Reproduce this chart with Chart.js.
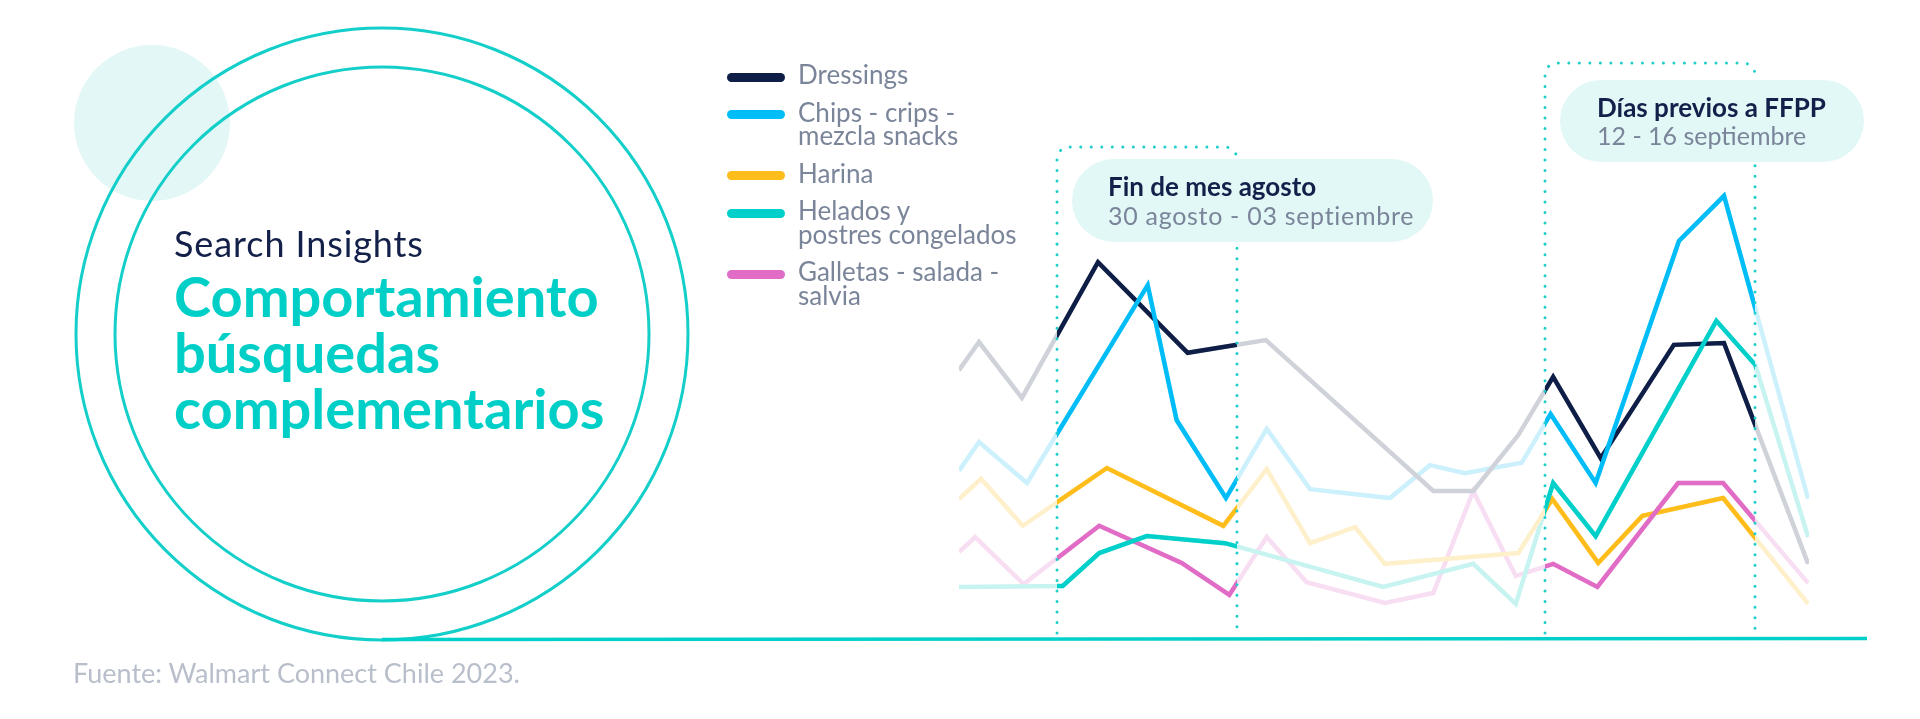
<!DOCTYPE html>
<html><head><meta charset="utf-8">
<script src="https://cdn.jsdelivr.net/npm/chart.js@4.4.0/dist/chart.umd.min.js"></script>
<style>
html,body{margin:0;padding:0;background:#fff;width:1920px;height:719px;overflow:hidden;font-family:Lato,'Noto Sans',sans-serif;}
#wrap{position:relative;width:1920px;height:719px;}
canvas{position:absolute;left:0;top:0;}
.abs{position:absolute;white-space:nowrap;}
#kicker{left:174px;top:225px;font-size:36px;line-height:36px;color:#13204a;font-weight:400;letter-spacing:0.9px;}
#title{left:174px;top:268px;font-size:56px;line-height:56px;color:#00cfc8;font-weight:700;}
#legend{position:absolute;left:727px;top:63px;display:flex;flex-direction:column;gap:14px;}
.li{display:flex;align-items:flex-start;}
.sw{width:58px;height:9px;border-radius:4.5px;margin-top:9.8px;margin-right:13px;flex:none;}
.lt{font-size:26px;line-height:23.5px;color:#7b859a;white-space:pre;}
.box{position:absolute;background:#e2f8f7;}
.bt{position:absolute;font-size:26px;line-height:26px;font-weight:700;color:#13204a;white-space:nowrap;}
.bs{position:absolute;font-size:25px;line-height:25px;font-weight:400;color:#7b859a;white-space:nowrap;}
#box1{left:1072px;top:159px;width:361px;height:83px;border-radius:42px;}
#box1 .bs{letter-spacing:0.7px;}
#box2{left:1560px;top:80px;width:304px;height:82px;border-radius:41px;}
#source{left:73px;top:659px;font-size:27px;line-height:27px;color:#b8bfcb;}
</style></head><body>
<div id="wrap">
<canvas id="c" width="1920" height="719"></canvas>
<div class="abs" id="kicker">Search Insights</div>
<div class="abs" id="title">Comportamiento<br>búsquedas<br>complementarios</div>
<div id="legend"></div>
<div class="box" id="box1"><div class="bt" style="left:36px;top:14px">Fin de mes agosto</div><div class="bs" style="left:36px;top:44px">30 agosto - 03 septiembre</div></div>
<div class="box" id="box2"><div class="bt" style="left:37px;top:14px">Días previos a FFPP</div><div class="bs" style="left:37px;top:43px">12 - 16 septiembre</div></div>
<div class="abs" id="source">Fuente: Walmart Connect Chile 2023.</div>
</div>
<script>
// ---- data (x = position along the period, 0-100; y = search index, 0-100) ----
const seriesNames = ["Dressings", "Chips - crips -\nmezcla snacks", "Harina", "Helados y\npostres congelados", "Galletas - salada -\nsalvia"];
const windowLabels = ["Fin de mes agosto: 30 agosto - 03 septiembre", "Días previos a FFPP: 12 - 16 septiembre"];
const windowRanges = [[11.53, 32.70], [68.94, 93.65]];

const dressingsX = [0, 2.35, 7.4, 16.35, 26.9, 36.1, 55.8, 60.5, 65.8, 69.9, 75.5, 84.1, 90.0, 99.9];
const dressingsY = [57.4, 63.4, 51.5, 80.4, 61.1, 63.8, 31.7, 31.7, 43.6, 56.0, 38.7, 62.8, 63.2, 16.2];

const chipsX = [0, 2.35, 8.0, 22.2, 25.6, 31.4, 36.2, 41.3, 50.7, 55.4, 59.5, 66.2, 69.6, 74.9, 84.7, 90.0, 99.9];
const chipsY = [36.0, 42.1, 33.4, 75.5, 46.8, 30.2, 44.9, 32.1, 30.2, 37.2, 35.5, 37.7, 48.1, 33.4, 84.9, 94.5, 30.0];

const harinaX = [0, 2.6, 7.5, 17.4, 31.1, 36.2, 41.3, 46.6, 50.1, 65.8, 69.8, 75.2, 80.4, 89.9, 99.9];
const harinaY = [30.0, 34.3, 24.3, 36.6, 24.3, 36.4, 20.6, 24.0, 16.2, 18.5, 30.0, 16.4, 26.4, 30.2, 7.7];

const heladosX = [0, 12.2, 16.5, 22.1, 31.3, 49.9, 60.5, 65.5, 69.9, 74.9, 89.1, 93.7, 99.9];
const heladosY = [11.3, 11.5, 18.5, 22.1, 20.6, 11.3, 16.2, 7.7, 33.4, 22.1, 67.9, 58.5, 21.9];

const galletasX = [0, 1.9, 7.6, 16.5, 26.2, 31.8, 36.2, 40.9, 50.1, 55.8, 60.5, 65.5, 69.9, 75.1, 84.6, 89.9, 99.9];
const galletasY = [18.7, 21.9, 11.9, 24.3, 16.4, 9.6, 21.9, 12.3, 7.9, 10.0, 31.7, 13.6, 16.2, 11.3, 33.4, 33.4, 12.1];

// ---- styles ----
const strongColors = ["#0e1e46", "#00bdf8", "#ffbd1c", "#00d0c9", "#e16cc6"];
const softColors   = ["#cfd2d9", "#ccf1fd", "#fff0cc", "#c7f3f1", "#f8def2"];
const drawRank     = [4, 0, 3, 1, 2]; // lower = on top

const xs = [dressingsX, chipsX, harinaX, heladosX, galletasX];
const ys = [dressingsY, chipsY, harinaY, heladosY, galletasY];

const datasets = [];
seriesNames.forEach((name, i) => {
  const pts = xs[i].map((x, k) => ({x: x, y: ys[i][k]}));
  datasets.push({label: name, data: pts, borderColor: softColors[i], borderWidth: 4.5, order: 100 + i, highlight: false});
  datasets.push({label: name, data: pts, borderColor: strongColors[i], borderWidth: 4.5, order: drawRank[i], highlight: true});
});

// legend (HTML, built from series names)
const lg = document.getElementById('legend');
seriesNames.forEach((name, i) => {
  const it = document.createElement('div'); it.className = 'li';
  const sw = document.createElement('span'); sw.className = 'sw'; sw.style.background = strongColors[i];
  const tx = document.createElement('span'); tx.className = 'lt'; tx.textContent = name;
  it.appendChild(sw); it.appendChild(tx); lg.appendChild(it);
});

const windowClip = {
  id: 'windowClip',
  beforeDatasetDraw(chart, args) {
    const ds = chart.data.datasets[args.index];
    if (!ds.highlight) return;
    const ctx = chart.ctx, sx = chart.scales.x;
    ctx.save();
    ctx.beginPath();
    windowRanges.forEach(([a, b]) => {
      const l = sx.getPixelForValue(a), r = sx.getPixelForValue(b);
      ctx.rect(l, 0, r - l, chart.height);
    });
    ctx.clip();
  },
  afterDatasetDraw(chart, args) {
    const ds = chart.data.datasets[args.index];
    if (ds.highlight) chart.ctx.restore();
  }
};

const decor = {
  id: 'decor',
  beforeDraw(chart) {
    const ctx = chart.ctx;
    ctx.save();
    ctx.fillStyle = '#e3f8f6';
    ctx.beginPath(); ctx.arc(152, 123, 78, 0, Math.PI * 2); ctx.fill();
    ctx.strokeStyle = '#14cfc9';
    ctx.lineWidth = 3;
    ctx.beginPath(); ctx.arc(382, 334, 306, 0, Math.PI * 2); ctx.stroke();
    ctx.beginPath(); ctx.arc(382, 334, 267, 0, Math.PI * 2); ctx.stroke();
    ctx.lineWidth = 3.5;
    ctx.strokeStyle = '#00cfca';
    ctx.beginPath(); ctx.moveTo(382, 639.5); ctx.lineTo(1867, 638.5); ctx.stroke();
    ctx.restore();
  },
  afterDatasetsDraw(chart) {
    const ctx = chart.ctx, sx = chart.scales.x;
    const tops = [147, 63];
    ctx.save();
    ctx.strokeStyle = '#1ccfca';
    ctx.lineWidth = 3;
    ctx.lineCap = 'round';
    ctx.setLineDash([0.01, 10.5]);
    windowRanges.forEach(([a, b], k) => {
      const l = sx.getPixelForValue(a), r = sx.getPixelForValue(b), t = tops[k], bot = 633, rad = 12;
      ctx.beginPath();
      ctx.moveTo(l, bot); ctx.lineTo(l, t + rad); ctx.arcTo(l, t, l + rad, t, rad);
      ctx.lineTo(r - rad, t); ctx.arcTo(r, t, r, t + rad, rad); ctx.lineTo(r, bot);
      ctx.stroke();
    });
    ctx.restore();
  }
};

new Chart(document.getElementById('c'), {
  type: 'line',
  data: {datasets: datasets},
  options: {
    responsive: false, animation: false, devicePixelRatio: 1,
    layout: {padding: {left: 959, right: 111, top: 170, bottom: 79}},
    scales: {
      x: {type: 'linear', min: 0, max: 100, display: false},
      y: {type: 'linear', min: 0, max: 100, display: false}
    },
    elements: {
      point: {radius: 0, hoverRadius: 0},
      line: {tension: 0, borderJoinStyle: 'miter', borderCapStyle: 'butt', fill: false}
    },
    plugins: {legend: {display: false}, tooltip: {enabled: false}}
  },
  plugins: [decor, windowClip]
});
</script>
</body></html>
